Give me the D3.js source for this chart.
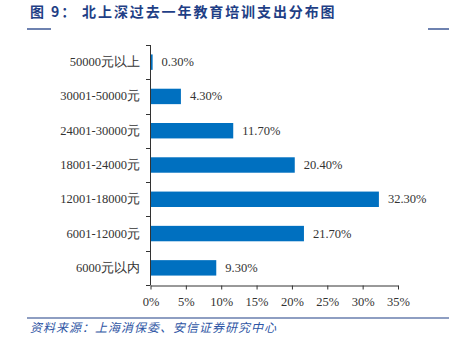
<!DOCTYPE html>
<html><head><meta charset="utf-8">
<script src="https://cdnjs.cloudflare.com/ajax/libs/d3/7.8.5/d3.min.js"></script>
<style>body{margin:0;background:#fff}svg{display:block}</style>
</head><body>
<script>
const categories = ["50000元以上","30001-50000元","24001-30000元","18001-24000元","12001-18000元","6001-12000元","6000元以内"];
const values = [0.3, 4.3, 11.7, 20.4, 32.3, 21.7, 9.3];
const valueLabels = ["0.30%","4.30%","11.70%","20.40%","32.30%","21.70%","9.30%"];
const xTicks = [0,5,10,15,20,25,30,35];
const title = "图 9： 北上深过去一年教育培训支出分布图";
const source = "资料来源：上海消保委、安信证券研究中心";

const W=449,H=339;
const svg=d3.select("body").append("svg").attr("width",W).attr("height",H);
const serif="'Liberation Serif','Times New Roman',serif";
const cjk="'Noto Sans CJK SC',sans-serif";

svg.append("text").attr("x",30).attr("y",17).attr("fill","#1f3f86")
  .attr("font-family",cjk).attr("font-weight","bold").attr("font-size",14)
  .attr("letter-spacing",1.9).text(title);
svg.append("line").attr("x1",27).attr("x2",51).attr("y1",29).attr("y2",29).attr("stroke","#1f3f86").attr("stroke-width",1.3);
svg.append("line").attr("x1",428).attr("x2",449).attr("y1",29).attr("y2",29).attr("stroke","#1f3f86").attr("stroke-width",1.3);

const x=d3.scaleLinear().domain([0,35]).range([150.5,398]);
const y=d3.scaleBand().domain(categories).range([45,285]).paddingInner(0.55).paddingOuter(0.275);

const g=svg.append("g");
g.selectAll("rect.bar").data(values).join("rect").attr("class","bar")
  .attr("x",x(0)).attr("y",(d,i)=>y(categories[i]))
  .attr("width",d=>x(d)-x(0)).attr("height",y.bandwidth()).attr("fill","#0070c0");
g.selectAll("text.val").data(values).join("text").attr("class","val")
  .attr("x",d=>x(d)+9).attr("y",(d,i)=>y(categories[i])+y.bandwidth()/2+4)
  .attr("font-family",serif).attr("font-size",12.5).attr("fill","#333")
  .text((d,i)=>valueLabels[i]);

// y axis
const yb=d3.scaleBand().domain(categories).range([45,285]);
const ya=svg.append("g");
ya.append("line").attr("x1",150.5).attr("x2",150.5).attr("y1",45).attr("y2",285).attr("stroke","#333");
const bounds=categories.map(c=>yb(c)).concat([285]);
ya.selectAll("line.t").data(bounds).join("line").attr("class","t")
  .attr("x1",146).attr("x2",150.5).attr("y1",d=>Math.round(d)+0.5).attr("y2",d=>Math.round(d)+0.5).attr("stroke","#333");
ya.selectAll("text").data(categories).join("text")
  .attr("x",140).attr("y",d=>yb(d)+yb.bandwidth()/2+4).attr("text-anchor","end")
  .attr("font-family",serif).attr("font-size",12.5).attr("fill","#333").text(d=>d);

// x axis
const xa=svg.append("g").attr("transform","translate(0,285.5)");
xa.call(d3.axisBottom(x).tickValues(xTicks).tickSize(4).tickSizeOuter(0).tickFormat(d=>d+"%"));
xa.select(".domain").attr("stroke","#333");
xa.selectAll(".tick line").attr("stroke","#333");
xa.selectAll(".tick text").attr("font-family",serif).attr("font-size",12.5).attr("fill","#333").attr("dy","1.1em");

svg.append("line").attr("x1",27).attr("x2",449).attr("y1",318).attr("y2",318).attr("stroke","#1f3f86").attr("stroke-width",1.2);
svg.append("text").attr("x",30).attr("y",332).attr("fill","#2e55a4")
  .attr("font-family",cjk).attr("font-style","italic").attr("font-size",12).attr("letter-spacing",1).text(source);
</script>
</body></html>
